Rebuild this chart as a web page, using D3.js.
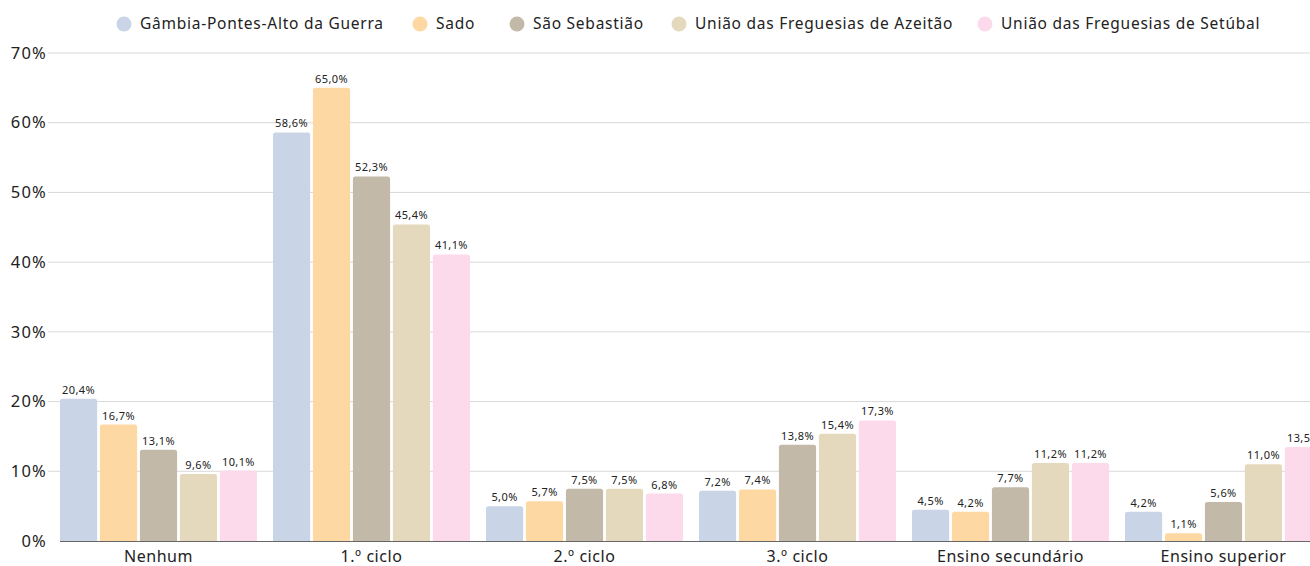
<!DOCTYPE html>
<html>
<head>
<meta charset="utf-8">
<script src="https://cdn.jsdelivr.net/npm/d3@7"></script>
<style>
  html, body { margin: 0; padding: 0; background: #fff; }
  svg { display: block; font-family: "Noto Sans", "Open Sans", sans-serif; }
</style>
</head>
<body>
<svg id="chart" width="1310" height="566"></svg>
<script>
// Education level by parish (percent of population)
const categories = ["Nenhum", "1.º ciclo", "2.º ciclo", "3.º ciclo", "Ensino secundário", "Ensino superior"];
const seriesNames = [
  "Gâmbia-Pontes-Alto da Guerra",
  "Sado",
  "São Sebastião",
  "União das Freguesias de Azeitão",
  "União das Freguesias de Setúbal"
];
const gambia   = [20.4, 58.6, 5.0, 7.2, 4.5, 4.2];
const sado     = [16.7, 65.0, 5.7, 7.4, 4.2, 1.1];
const saoSeb   = [13.1, 52.3, 7.5, 13.8, 7.7, 5.6];
const azeitao  = [9.6, 45.4, 7.5, 15.4, 11.2, 11.0];
const setubal  = [10.1, 41.1, 6.8, 17.3, 11.2, 13.5];
const seriesColors = ["#c9d4e6", "#fdd8a3", "#c2b9a9", "#e5d9bd", "#fcdaec"];
const yTicks = [0, 10, 20, 30, 40, 50, 60, 70];

const seriesValues = [gambia, sado, saoSeb, azeitao, setubal];

const svg = d3.select("#chart");
const plotLeft = 52, plotRight = 1330, plotTop = 53, plotBottom = 541;

const x0 = d3.scaleBand().domain(categories).range([plotLeft, plotRight]).paddingInner(0.075).paddingOuter(0.0375);
const x1 = d3.scaleBand().domain(seriesNames).range([0, x0.bandwidth()]).paddingInner(0.07);
const y = d3.scaleLinear().domain([0, 70]).range([plotBottom, plotTop]);

// Gridlines
svg.append("g")
  .selectAll("line")
  .data(yTicks.filter(t => t > 0))
  .join("line")
  .attr("x1", 48).attr("x2", 1310)
  .attr("y1", d => y(d)).attr("y2", d => y(d))
  .attr("stroke", "#d9d9d9").attr("stroke-width", 1);

// Y axis labels
const yAxis = d3.axisLeft(y).tickValues(yTicks).tickFormat(d => d + "%").tickSize(0).tickPadding(0);
const yg = svg.append("g").attr("transform", "translate(47,0)").call(yAxis);
yg.select(".domain").remove();
yg.selectAll("text")
  .attr("font-size", 16.5).attr("fill", "#222")
  .attr("letter-spacing", "1.2px")
  .attr("font-family", "\"Noto Sans\", sans-serif");

// Bars
const groups = svg.append("g")
  .selectAll("g")
  .data(categories.map((c, i) => ({ c, i })))
  .join("g")
  .attr("transform", d => `translate(${x0(d.c)},0)`);

const barData = d => seriesNames.map((s, k) => ({ s, k, v: seriesValues[k][d.i] }));

groups.selectAll("path")
  .data(barData)
  .join("path")
  .attr("fill", d => seriesColors[d.k])
  .attr("d", d => {
    const x = x1(d.s), w = x1.bandwidth(), top = y(d.v), bot = y(0), r = Math.min(2.5, (bot - top));
    return `M${x},${bot}V${top + r}Q${x},${top} ${x + r},${top}H${x + w - r}Q${x + w},${top} ${x + w},${top + r}V${bot}Z`;
  });

groups.selectAll("text")
  .data(barData)
  .join("text")
  .attr("x", d => x1(d.s) + x1.bandwidth() / 2)
  .attr("y", d => y(d.v) - 5)
  .attr("text-anchor", "middle")
  .attr("font-size", 11)
  .attr("letter-spacing", "0.4px")
  .attr("fill", "#222")
  .text(d => d.v.toFixed(1).replace(".", ",") + "%");

// Baseline
svg.append("line")
  .attr("x1", plotLeft + 8).attr("x2", 1310)
  .attr("y1", y(0) + 0.5).attr("y2", y(0) + 0.5)
  .attr("stroke", "#666").attr("stroke-width", 1);

// Category axis labels
const xAxis = d3.axisBottom(x0).tickSize(0).tickPadding(0);
const xg = svg.append("g").attr("transform", `translate(0,${plotBottom + 10})`).call(xAxis);
xg.select(".domain").remove();
xg.selectAll("text")
  .attr("font-size", 16).attr("fill", "#222").attr("dy", "0.71em")
  .attr("letter-spacing", "0.55px")
  .attr("font-family", "\"Noto Sans\", sans-serif");

// Legend
const legendX = [124, 420, 517, 679, 985];
const legend = svg.append("g")
  .selectAll("g")
  .data(seriesNames)
  .join("g")
  .attr("transform", (d, i) => `translate(${legendX[i]},24)`);
legend.append("circle").attr("r", 7.5).attr("fill", (d, i) => seriesColors[i]);
legend.append("text")
  .attr("x", 16).attr("dy", "0.35em")
  .attr("font-size", 15.5).attr("fill", "#222")
  .attr("letter-spacing", "0.75px")
  .text(d => d);
</script>
</body>
</html>
